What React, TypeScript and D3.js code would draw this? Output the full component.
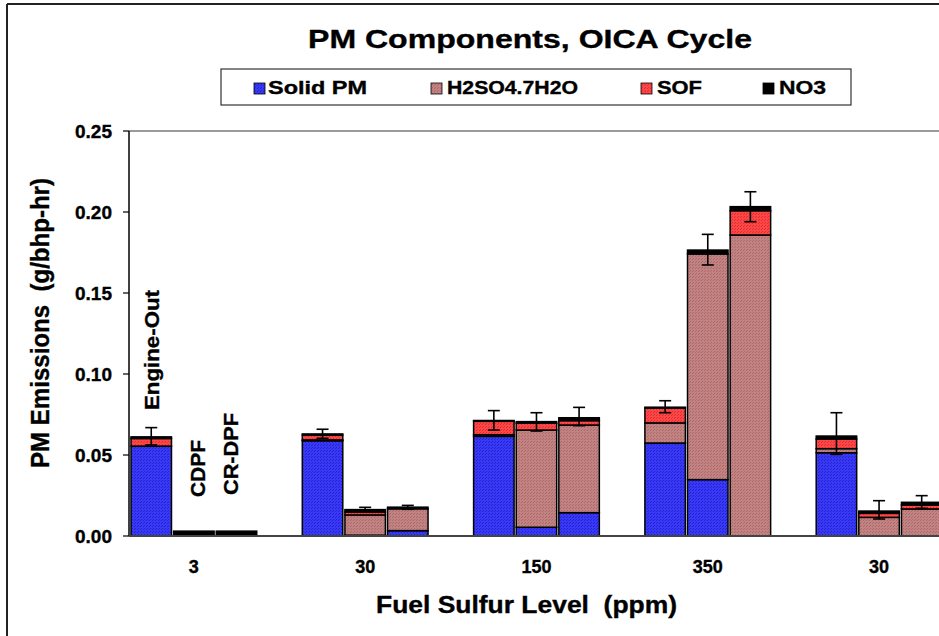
import React from "react";
import * as d3 from "d3";

const categories = ["3", "30", "150", "350", "30"];
const seriesNames = ["Solid PM", "H2SO4.7H2O", "SOF", "NO3"];
// one value per bar (3 bars per category, left to right)
const solidPM = [0.0555, 0, 0, 0.0588, 0.0005, 0.0033, 0.0615, 0.0054, 0.0144, 0.0574, 0.0348, 0, 0.0514, 0, 0];
const h2so4 = [0, 0, 0, 0.0005, 0.0125, 0.0135, 0.001, 0.06, 0.0541, 0.0124, 0.1393, 0.1858, 0.0025, 0.0115, 0.0167];
const sof = [0.0047, 0, 0, 0.003, 0.0018, 0, 0.0083, 0.0042, 0.0027, 0.0092, 0, 0.015, 0.006, 0.0025, 0.0024];
const no3 = [0.001, 0.003, 0.003, 0.0007, 0.0015, 0.001, 0.0005, 0.001, 0.0018, 0.0005, 0.0024, 0.0025, 0.0018, 0.0014, 0.0017];
const errHigh = [0.0669, null, null, 0.0659, 0.0177, 0.0189, 0.0774, 0.0761, 0.0794, 0.0835, 0.1862, 0.2125, 0.0761, 0.0218, 0.0249];
const errLow = [0.0562, null, null, 0.0603, 0.016, 0.0165, 0.0654, 0.0648, 0.0681, 0.0761, 0.1673, 0.194, 0.0504, 0.0105, 0.0171];
const yTicks = [0, 0.05, 0.1, 0.15, 0.2, 0.25];
const barNotes = ["Engine-Out", "CDPF", "CR-DPF"];

const colors = ["#3838fa", "#c28282", "#ff4646", "#000000"];
const darkColors = ["#2424c0", "#a86a6a", "#d83030", "#000000"];

export default function App() {
  const W = 939, H = 636;
  const y = d3.scaleLinear().domain([0, 0.25]).range([536, 131]);
  const x = d3.scaleBand<number>().domain(d3.range(categories.length))
    .range([131, 131 + 171.3 * (categories.length - 0.266)]).paddingInner(0.266).paddingOuter(0);
  const xi = d3.scaleBand<number>().domain([0, 1, 2]).range([0, x.bandwidth()]).paddingInner(0.05);

  const rows = solidPM.map((_, i) => ({ i, s0: solidPM[i], s1: h2so4[i], s2: sof[i], s3: no3[i] }));
  const stack = d3.stack<any>().keys(["s0", "s1", "s2", "s3"])(rows);

  const barX = (i: number) => (x(Math.floor(i / 3)) as number) + (xi(i % 3) as number);
  const bw = xi.bandwidth();
  const font = "Liberation Sans, Arial, sans-serif";
  const bold = { fontWeight: "bold" as const, stroke: "#000", strokeWidth: 0.35, whiteSpace: "pre" as const };

  const legendItems = [
    { sx: 254, tx: 268, tl: 99 },
    { sx: 431, tx: 447, tl: 131 },
    { sx: 641, tx: 657, tl: 45 },
    { sx: 763, tx: 779, tl: 47 },
  ];

  return (
    <svg width={W} height={H} style={{ position: "absolute", left: 0, top: 0, background: "#fff" }} fontFamily={font}>
      <defs>
        {colors.map((c, k) => (
          <pattern key={k} id={`pat${k}`} width={3} height={3} patternUnits="userSpaceOnUse">
            <rect width={3} height={3} fill={c} />
            <rect x={0} y={0} width={1} height={1} fill={darkColors[k]} />
            <rect x={2} y={1} width={1} height={1} fill={darkColors[k]} />
          </pattern>
        ))}
      </defs>
      <rect width={W} height={H} fill="#fff" />
      {/* outer frame */}
      <line x1={7} y1={4} x2={W} y2={4} stroke="#222" strokeWidth={2} />
      <line x1={7} y1={4} x2={7} y2={H} stroke="#222" strokeWidth={2} />

      {/* title */}
      <text x={308} y={48} fontSize={26} style={bold} textLength={444} lengthAdjust="spacingAndGlyphs">PM Components, OICA Cycle</text>

      {/* legend */}
      <rect x={221} y={69} width={630} height={36} fill="#fff" stroke="#333" strokeWidth={1.2} />
      {seriesNames.map((n, k) => (
        <g key={n}>
          <rect x={legendItems[k].sx} y={83} width={11} height={11} fill={`url(#pat${k})`} stroke="#000" strokeWidth={0.8} />
          <text x={legendItems[k].tx} y={94} fontSize={18} style={bold} textLength={legendItems[k].tl} lengthAdjust="spacingAndGlyphs">{n}</text>
        </g>
      ))}

      {/* plot top border */}
      <line x1={129} y1={y(0.25)} x2={W} y2={y(0.25)} stroke="#9a9a9a" strokeWidth={2} />

      {/* bars */}
      {stack.map((layer, k) => (
        <g key={k}>
          {layer.map((d, i) => {
            const h = y(d[0]) - y(d[1]);
            if (h <= 0) return null;
            return (
              <rect key={i} x={barX(i)} y={y(d[1])} width={bw} height={h}
                fill={`url(#pat${k})`} stroke="#000" strokeWidth={1.5} />
            );
          })}
        </g>
      ))}

      {/* error bars */}
      {errHigh.map((hi, i) => {
        const lo = errLow[i];
        if (hi == null || lo == null) return null;
        const cx = barX(i) + bw / 2;
        return (
          <g key={i} stroke="#000" strokeWidth={1.6}>
            <line x1={cx} x2={cx} y1={y(hi)} y2={y(lo)} />
            <line x1={cx - 6} x2={cx + 6} y1={y(hi)} y2={y(hi)} />
            <line x1={cx - 6} x2={cx + 6} y1={y(lo)} y2={y(lo)} />
          </g>
        );
      })}

      {/* axes */}
      <line x1={129} y1={y(0.25)} x2={129} y2={y(0)} stroke="#000" strokeWidth={1.5} />
      <line x1={129} y1={y(0)} x2={W} y2={y(0)} stroke="#444" strokeWidth={2} />
      {yTicks.map((t) => (
        <g key={t}>
          <line x1={123} x2={129} y1={y(t)} y2={y(t)} stroke="#000" strokeWidth={1.2} />
          <text x={112} y={y(t) + 7} textAnchor="end" fontSize={19} style={bold}>{d3.format(".2f")(t)}</text>
        </g>
      ))}
      {categories.map((c, g) => (
        <text key={g} x={(x(g) as number) + x.bandwidth() / 2} y={573} textAnchor="middle" fontSize={18} style={bold}>{c}</text>
      ))}

      {/* bar annotations */}
      <text transform={`translate(159,410) rotate(-90)`} fontSize={20} style={bold} textLength={120} lengthAdjust="spacingAndGlyphs">{barNotes[0]}</text>
      <text transform={`translate(205,497) rotate(-90)`} fontSize={20} style={bold} textLength={57} lengthAdjust="spacingAndGlyphs">{barNotes[1]}</text>
      <text transform={`translate(238,495) rotate(-90)`} fontSize={20} style={bold} textLength={82} lengthAdjust="spacingAndGlyphs">{barNotes[2]}</text>

      {/* axis titles */}
      <text transform={`translate(49,468) rotate(-90)`} fontSize={25} style={bold} textLength={290} lengthAdjust="spacingAndGlyphs">PM Emissions  (g/bhp-hr)</text>
      <text x={376} y={613} fontSize={23} style={bold} textLength={301} lengthAdjust="spacingAndGlyphs">Fuel Sulfur Level  (ppm)</text>
    </svg>
  );
}
